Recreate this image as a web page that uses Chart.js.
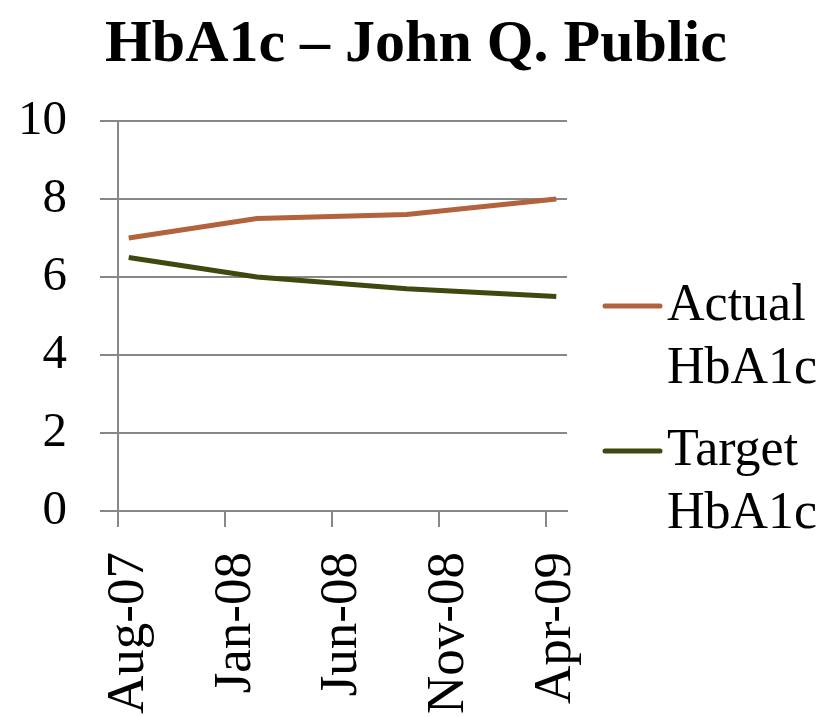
<!DOCTYPE html>
<html>
<head>
<meta charset="utf-8">
<script src="https://cdn.jsdelivr.net/npm/chart.js@4.4.0/dist/chart.umd.min.js"></script>
<style>
  html, body { margin: 0; padding: 0; background: #fff; }
</style>
</head>
<body>
<canvas id="chart" width="832" height="717"></canvas>
<script>
// monthly date axis, Aug-07 .. Apr-09 (only some months have a reading)
const months = ["Aug-07", "Sep-07", "Oct-07", "Nov-07", "Dec-07", "Jan-08", "Feb-08",
  "Mar-08", "Apr-08", "May-08", "Jun-08", "Jul-08", "Aug-08", "Sep-08", "Oct-08",
  "Nov-08", "Dec-08", "Jan-09", "Feb-09", "Mar-09", "Apr-09"];
const actualHbA1c = [7.0, null, null, null, null, null, 7.5, null, null, null, null,
  null, null, 7.6, null, null, null, null, null, null, 8.0];
const targetHbA1c = [6.5, null, null, null, null, null, 6.0, null, null, null, null,
  null, null, 5.7, null, null, null, null, null, null, 5.5];
const seriesNames = [["Actual", "HbA1c"], ["Target", "HbA1c"]];
const seriesColors = ["#B2623C", "#3E4910"];
const yMin = 0, yMax = 10, yStep = 2;
const labelEvery = 5;

const serif = "'Book Antiqua', Palatino, 'Liberation Serif', serif";
const gridGray = "#878787";

// legend drawn to the right of the plot, two text lines per entry
const sideLegend = {
  id: "sideLegend",
  afterDraw(chart) {
    const { ctx, chartArea } = chart;
    ctx.save();
    ctx.font = "52px " + serif;
    ctx.textAlign = "left";
    ctx.textBaseline = "alphabetic";
    chart.data.datasets.forEach((ds, i) => {
      const x0 = chartArea.right + 38;
      const base = chartArea.top + 199 + i * 145;
      ctx.strokeStyle = ds.borderColor;
      ctx.lineWidth = 5;
      ctx.lineCap = "round";
      ctx.beginPath();
      ctx.moveTo(x0, base - 14);
      ctx.lineTo(x0 + 55, base - 14);
      ctx.stroke();
      ctx.fillStyle = "#000";
      seriesNames[i].forEach((line, j) => ctx.fillText(line, x0 + 62, base + j * 63));
    });
    ctx.restore();
  }
};

new Chart(document.getElementById("chart").getContext("2d"), {
  type: "line",
  data: {
    labels: months,
    datasets: [
      {
        label: seriesNames[0].join(" "),
        data: actualHbA1c,
        borderColor: seriesColors[0],
        backgroundColor: seriesColors[0],
        borderWidth: 5,
        pointRadius: 0,
        spanGaps: true,
        tension: 0,
        fill: false,
      },
      {
        label: seriesNames[1].join(" "),
        data: targetHbA1c,
        borderColor: seriesColors[1],
        backgroundColor: seriesColors[1],
        borderWidth: 5,
        pointRadius: 0,
        spanGaps: true,
        tension: 0,
        fill: false,
      },
    ],
  },
  options: {
    responsive: false,
    animation: false,
    layout: { padding: 0 },
    plugins: {
      legend: { display: false },
      tooltip: { enabled: false },
      title: {
        display: true,
        text: "HbA1c \u2013 John Q. Public",
        color: "#000",
        font: { family: serif, size: 60, weight: "bold" },
        padding: { top: 9, bottom: 40 },
      },
    },
    scales: {
      x: {
        offset: true,
        grid: {
          offset: true,
          drawOnChartArea: false,
          drawTicks: true,
          tickLength: 16,
          lineWidth: 2,
          color: (c) => (c.index !== undefined && c.index % labelEvery === 0 ? gridGray : "rgba(0,0,0,0)"),
        },
        border: { display: true, color: gridGray, width: 2 },
        ticks: {
          autoSkip: false,
          minRotation: 90,
          maxRotation: 90,
          padding: 25,
          color: "#000",
          font: { family: serif, size: 53 },
          callback: (v, i) => (i % labelEvery === 0 ? months[i] : ""),
        },
        afterFit: (s) => { s.height = 206; },
      },
      y: {
        min: yMin,
        max: yMax,
        ticks: {
          stepSize: yStep,
          padding: 33,
          color: "#000",
          font: { family: serif, size: 49 },
        },
        grid: { color: gridGray, lineWidth: 2, tickLength: 18 },
        border: { display: true, color: gridGray, width: 2 },
        afterFit: (s) => { s.width = 118; },
      },
      legendSpace: {
        type: "linear",
        position: "right",
        display: true,
        grid: { display: false },
        ticks: { display: false },
        border: { display: false },
        afterFit: (s) => { s.width = 265; },
      },
    },
  },
  plugins: [sideLegend],
});
</script>
</body>
</html>
